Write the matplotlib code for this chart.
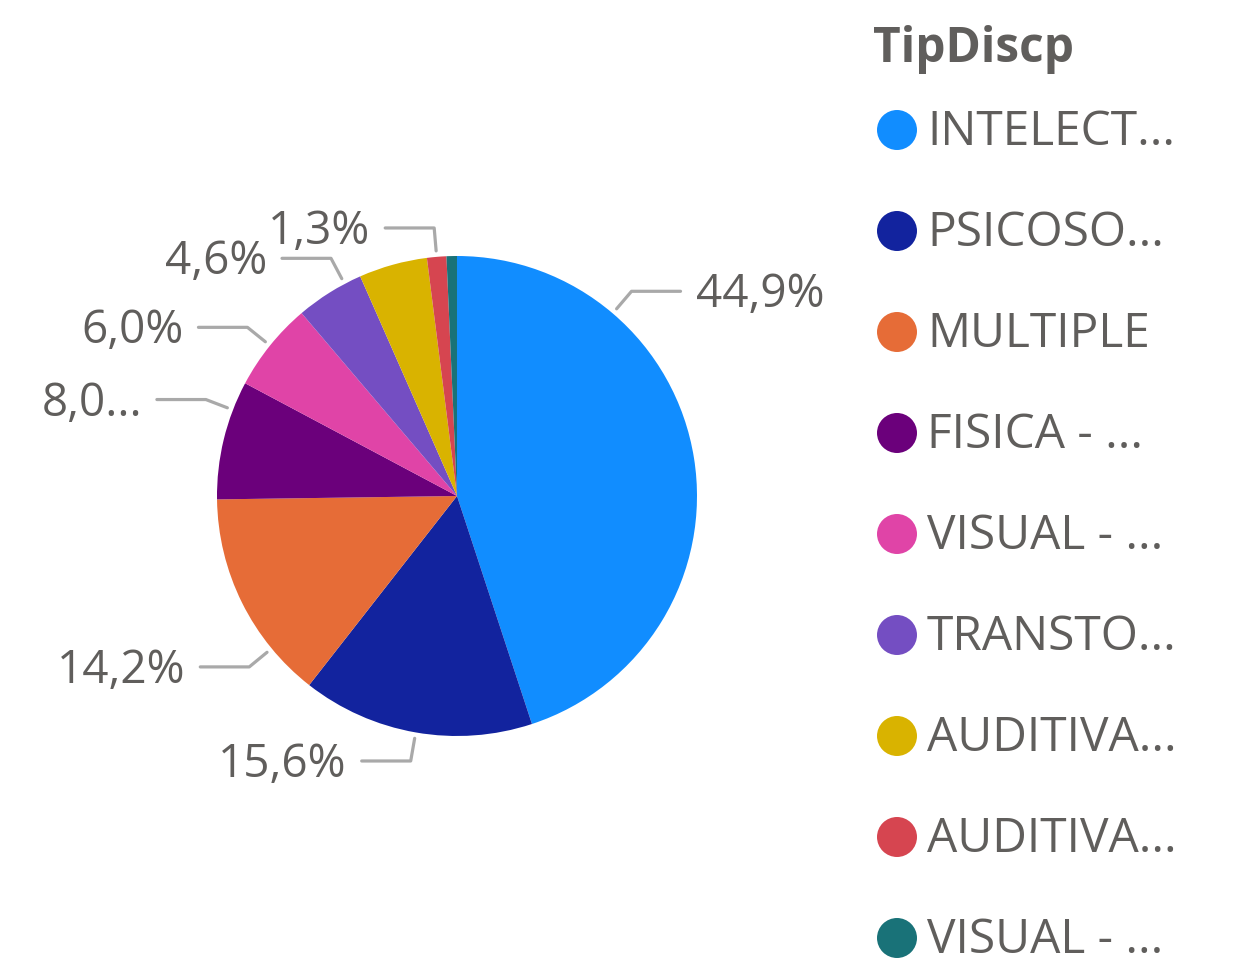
import numpy as np
import matplotlib.pyplot as plt
from matplotlib.patches import Circle

categories = ['INTELECT...', 'PSICOSO...', 'MULTIPLE', 'FISICA - ...', 'VISUAL - ...',
              'TRANSTO...', 'AUDITIVA...', 'AUDITIVA...', 'VISUAL - ...']
values = [44.9, 15.6, 14.2, 8.0, 6.0, 4.6, 4.6, 1.3, 0.7]
data_labels = ['44,9%', '15,6%', '14,2%', '8,0...', '6,0%', '4,6%', None, '1,3%', None]
colors = ['#118DFF', '#12239E', '#E66C37', '#6B007B', '#E044A7',
          '#744EC2', '#D9B300', '#D64550', '#197278']
legend_title = 'TipDiscp'

# where along each slice the leader line sits (0 = start, 1 = end, clockwise)
leader_frac = [0.25, 0.5, 0.245, 0.757, 0.5, 0.75, 0.5, 0.5, 0.5]

W, H = 1239, 959
TXT = '#605E5C'
plt.rcParams['font.family'] = ['Open Sans', 'DejaVu Sans']

fig = plt.figure(figsize=(W / 100, H / 100), dpi=100)
ax = fig.add_axes([0, 0, 1, 1])

cx, cy, R = 457, H - 496, 240
ax.pie(values, colors=colors, startangle=90, counterclock=False,
       center=(cx, cy), radius=R, wedgeprops=dict(linewidth=0), frame=True)
ax.set_xlim(0, W)
ax.set_ylim(0, H)
ax.axis('off')

# data labels with elbow leader lines
total = sum(values)
start = 0.0
for v, lab, f in zip(values, data_labels, leader_frac):
    span = v / total * 360
    if lab is not None:
        a = np.radians(start + f * span)
        x1, y1 = cx + 246 * np.sin(a), cy + 246 * np.cos(a)
        x2, y2 = cx + 269 * np.sin(a), cy + 269 * np.cos(a)
        d = 1 if np.sin(a) > 0 else -1
        x3 = x2 + d * 49
        ax.plot([x1, x2, x3], [y1, y2, y2], color='#A9A9A9', lw=2.3,
                solid_capstyle='round', solid_joinstyle='round')
        ax.text(x3 + d * 15, y2 - 4, lab, fontsize=33, color=TXT,
                ha='left' if d > 0 else 'right', va='center')
    start += span

# legend
ax.text(873, H - 50, legend_title, fontsize=34.5, fontweight='bold', color=TXT,
        ha='left', va='center')
for i, (name, c) in enumerate(zip(categories, colors)):
    y = H - (130 + i * 101)
    ax.add_patch(Circle((897, y), 20, color=c, lw=0))
    ax.text(927, y - 2, name, fontsize=34.5, color=TXT, ha='left', va='center')

fig.savefig('out.png', dpi=100)
